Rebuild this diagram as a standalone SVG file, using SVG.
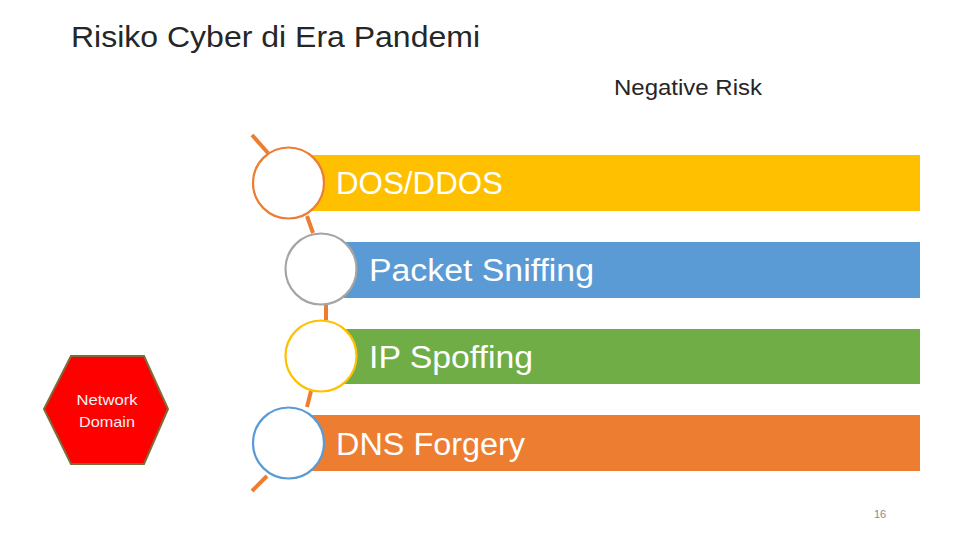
<svg xmlns="http://www.w3.org/2000/svg" width="960" height="540" viewBox="0 0 960 540">
<style>
.t{font-family:"Liberation Sans",Arial,sans-serif;}
.bar-txt{font-family:"Liberation Sans",Arial,sans-serif;font-size:31px;fill:#ffffff;}
.ring{fill:#ffffff;stroke-width:2.2;}
.conn{stroke:#ED7D31;stroke-width:4;fill:none;}
</style>
<rect width="960" height="540" fill="#ffffff"/>
<text class="t" x="71" y="47" font-size="30" fill="#262626" textLength="409" lengthAdjust="spacingAndGlyphs">Risiko Cyber di Era Pandemi</text>
<text class="t" x="614" y="95" font-size="22" fill="#262626" textLength="148" lengthAdjust="spacingAndGlyphs">Negative Risk</text>

<g id="connectors">
<line class="conn" x1="252" y1="135" x2="268" y2="153"/>
<line class="conn" x1="307" y1="216" x2="313" y2="233"/>
<line class="conn" x1="326" y1="305" x2="326" y2="320"/>
<line class="conn" x1="311" y1="391" x2="307" y2="407"/>
<line class="conn" x1="267" y1="476" x2="252" y2="491"/>
</g>

<g id="node-dos">
<rect x="310" y="155" width="610" height="56" fill="#FFC000"/>
<circle class="ring" cx="288.5" cy="183" r="35.5" stroke="#ED7D31"/>
<text class="bar-txt" x="336" y="194" textLength="167" lengthAdjust="spacingAndGlyphs">DOS/DDOS</text>
</g>

<g id="node-packet">
<rect x="343" y="242" width="577" height="56" fill="#5B9BD5"/>
<circle class="ring" cx="321" cy="269" r="35.5" stroke="#A5A5A5"/>
<text class="bar-txt" x="369" y="281" textLength="225" lengthAdjust="spacingAndGlyphs">Packet Sniffing</text>
</g>

<g id="node-ip">
<rect x="343" y="329" width="577" height="55" fill="#70AD47"/>
<circle class="ring" cx="321" cy="356" r="35.5" stroke="#FFC000"/>
<text class="bar-txt" x="369" y="368" textLength="164" lengthAdjust="spacingAndGlyphs">IP Spoffing</text>
</g>

<g id="node-dns">
<rect x="310" y="415" width="610" height="56" fill="#ED7D31"/>
<circle class="ring" cx="288.5" cy="443" r="35.5" stroke="#5B9BD5"/>
<text class="bar-txt" x="336" y="455" textLength="189" lengthAdjust="spacingAndGlyphs">DNS Forgery</text>
</g>

<g id="node-network-domain">
<polygon points="44,409 71,356 144,356 168,409 144,464 71,464" fill="#FF0000" stroke="#7F6A3A" stroke-width="2"/>
<text class="t" x="107" y="405" font-size="15" fill="#F2F2F2" text-anchor="middle" textLength="61" lengthAdjust="spacingAndGlyphs">Network</text>
<text class="t" x="107" y="427" font-size="15" fill="#F2F2F2" text-anchor="middle" textLength="56" lengthAdjust="spacingAndGlyphs">Domain</text>
</g>

<text class="t" x="880" y="518" font-size="11" fill="#898989" text-anchor="middle">16</text>
</svg>
